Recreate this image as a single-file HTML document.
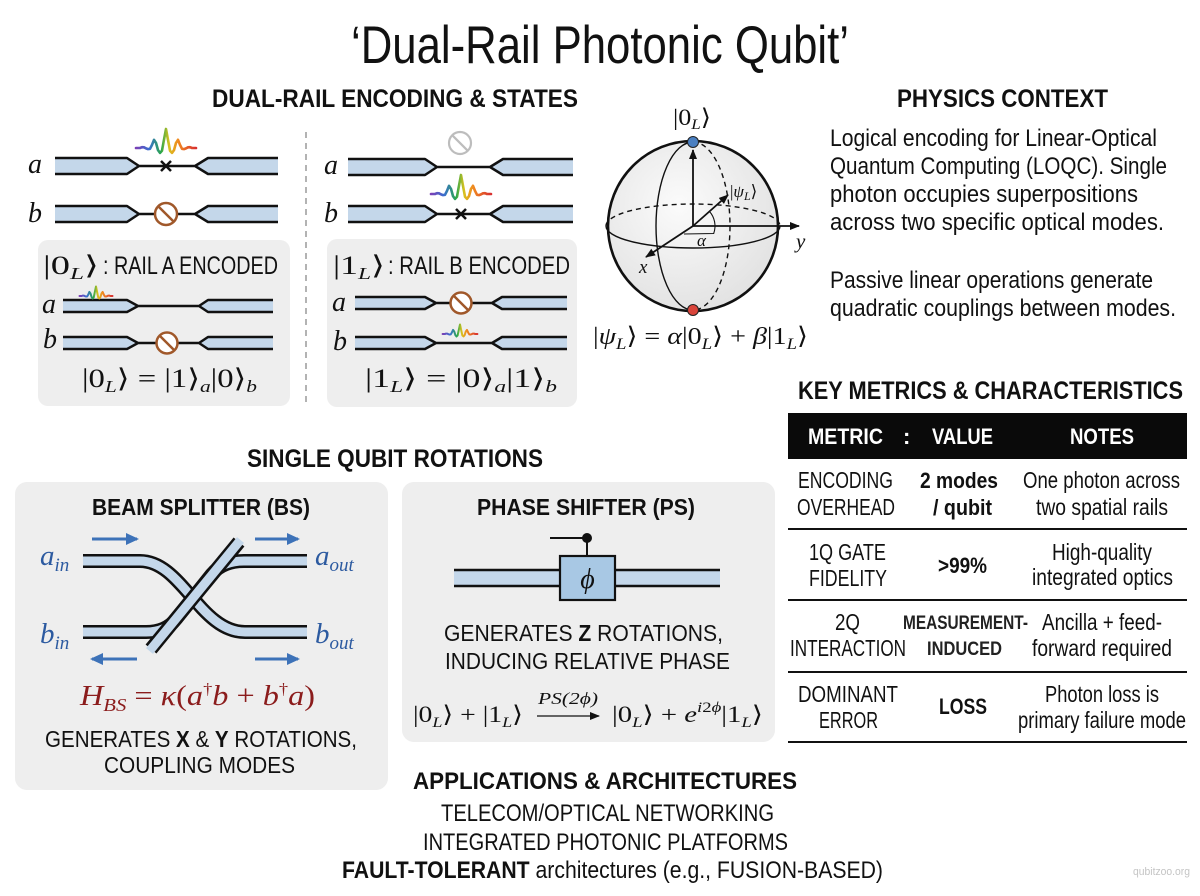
<!DOCTYPE html>
<html><head><meta charset="utf-8"><style>
html,body{margin:0;padding:0;background:#fff;}
svg{display:block;}
.t{font-family:"Liberation Sans",Arial,sans-serif;fill:#111;}
.bd{font-weight:bold;}
.m{font-family:"Liberation Serif","DejaVu Serif",serif;fill:#111;}
.it{font-style:italic;}
</style></head><body>
<svg width="1200" height="896" viewBox="0 0 1200 896" xmlns="http://www.w3.org/2000/svg">
<defs>
<linearGradient id="wg" x1="0" y1="0" x2="1" y2="0">
<stop offset="0" stop-color="#7a3fb5"/><stop offset="0.22" stop-color="#3a6fd0"/><stop offset="0.42" stop-color="#2aa84a"/><stop offset="0.55" stop-color="#d9c21e"/><stop offset="0.7" stop-color="#f08a20"/><stop offset="1" stop-color="#d83030"/>
</linearGradient>
<radialGradient id="sg" cx="0.42" cy="0.38" r="0.7"><stop offset="0" stop-color="#fbfbfb"/><stop offset="1" stop-color="#e0e0e0"/></radialGradient>
<marker id="ah" markerWidth="10" markerHeight="8" refX="9" refY="4" orient="auto" markerUnits="userSpaceOnUse"><path d="M0,0 L10,4 L0,8 Z" fill="#111"/></marker>
<marker id="ab" markerWidth="13" markerHeight="12" refX="11" refY="6" orient="auto" markerUnits="userSpaceOnUse"><path d="M0,0 L13,6 L0,12 Z" fill="#3d72b8"/></marker>
</defs>

<!-- Title -->
<text class="t" x="600" y="63" text-anchor="middle" font-size="53" textLength="498" lengthAdjust="spacingAndGlyphs">‘Dual-Rail Photonic Qubit’</text>

<!-- Section headings -->
<text class="t bd" x="212" y="107" font-size="25" textLength="366" lengthAdjust="spacingAndGlyphs">DUAL-RAIL ENCODING &amp; STATES</text>
<text class="t bd" x="897" y="107" font-size="25" textLength="211" lengthAdjust="spacingAndGlyphs">PHYSICS CONTEXT</text>
<text class="t bd" x="798" y="399" font-size="25" textLength="385" lengthAdjust="spacingAndGlyphs">KEY METRICS &amp; CHARACTERISTICS</text>
<text class="t bd" x="247" y="467" font-size="25" textLength="296" lengthAdjust="spacingAndGlyphs">SINGLE QUBIT ROTATIONS</text>

<!-- Dashed separator -->
<line x1="306" y1="132" x2="306" y2="403" stroke="#9a9a9a" stroke-width="1.5" stroke-dasharray="6 5"/>

<!-- Gray boxes -->
<rect x="38" y="240" width="252" height="166" rx="10" fill="#eeeeee"/>
<rect x="327" y="239" width="250" height="168" rx="10" fill="#eeeeee"/>

<!-- ===== Top-left rails ===== -->
<g fill="#c4d7ea" stroke="none">
<path d="M55,158 L127,158 L139,166 L127,174 L55,174 Z M278,158 L208,158 L195,166 L208,174 L278,174 Z"/>
<path d="M55,206 L127,206 L139,214 L127,222 L55,222 Z M278,206 L208,206 L195,214 L208,222 L278,222 Z"/>
<path d="M63,300 L127,300 L138,306 L127,312 L63,312 Z M273,300 L208,300 L199,306 L208,312 L273,312 Z"/>
<path d="M63,337 L127,337 L138,343 L127,349 L63,349 Z M273,337 L208,337 L199,343 L208,349 L273,349 Z"/>
<path d="M348,159 L425,159 L437,167 L425,175 L348,175 Z M573,159 L503,159 L490,167 L503,175 L573,175 Z"/>
<path d="M348,206 L425,206 L437,214 L425,222 L348,222 Z M573,206 L503,206 L490,214 L503,222 L573,222 Z"/>
<path d="M355,297 L425,297 L436,303 L425,309 L355,309 Z M567,297 L502,297 L492,303 L502,309 L567,309 Z"/>
<path d="M355,337 L425,337 L436,343 L425,349 L355,349 Z M567,337 L502,337 L492,343 L502,349 L567,349 Z"/>
</g>
<g fill="none" stroke="#111" stroke-width="2.5" stroke-linejoin="round">
<path d="M55,158 L127,158 L139,166 L195,166 L208,158 L278,158 M55,174 L127,174 L139,166 M195,166 L208,174 L278,174"/>
<path d="M55,206 L127,206 L139,214 L195,214 L208,206 L278,206 M55,222 L127,222 L139,214 M195,214 L208,222 L278,222"/>
<path d="M63,300 L127,300 L138,306 L199,306 L208,300 L273,300 M63,312 L127,312 L138,306 M199,306 L208,312 L273,312"/>
<path d="M63,337 L127,337 L138,343 L199,343 L208,337 L273,337 M63,349 L127,349 L138,343 M199,343 L208,349 L273,349"/>
<path d="M348,159 L425,159 L437,167 L490,167 L503,159 L573,159 M348,175 L425,175 L437,167 M490,167 L503,175 L573,175"/>
<path d="M348,206 L425,206 L437,214 L490,214 L503,206 L573,206 M348,222 L425,222 L437,214 M490,214 L503,222 L573,222"/>
<path d="M355,297 L425,297 L436,303 L492,303 L502,297 L567,297 M355,309 L425,309 L436,303 M492,303 L502,309 L567,309"/>
<path d="M355,337 L425,337 L436,343 L492,343 L502,337 L567,337 M355,349 L425,349 L436,343 M492,343 L502,349 L567,349"/>
</g>

<!-- crosses -->
<g stroke="#111" stroke-width="2.5">
<path d="M161,161 L171,171 M171,161 L161,171"/>
<path d="M456,209 L466,219 M466,209 L456,219"/>
</g>

<!-- blocked symbols -->
<g fill="#fff" stroke="#a0582a" stroke-width="2.5">
<circle cx="166" cy="214" r="11"/><path d="M158.2,206.2 L173.8,221.8"/>
<circle cx="167" cy="343" r="10.5"/><path d="M159.6,335.6 L174.4,350.4"/>
<circle cx="461" cy="303" r="10.5"/><path d="M453.6,295.6 L468.4,310.4"/>
</g>
<g fill="#fff" stroke="#bdbdbd" stroke-width="2.2">
<circle cx="460" cy="143" r="11"/><path d="M452.2,135.2 L467.8,150.8"/>
</g>

<!-- wave packets -->
<g fill="none" stroke="url(#wg)" stroke-width="2.6" stroke-linejoin="round" stroke-linecap="round">
<path transform="translate(166,148)" d="M-30,0 L-26,0 L-24,-0.85 L-22,-0.7 L-20,0.4 L-18,1.1 L-16,0.8 L-14,-3.1 L-12,-8.2 L-10,-5.1 L-8,2.1 L-6,4.9 L-4,2.7 L-2,-8.3 L0,-19 L2,-8.3 L4,2.7 L6,4.9 L8,2.1 L10,-5.1 L12,-8.2 L14,-3.1 L16,0.8 L18,1.1 L20,0.4 L22,-0.7 L24,-0.85 L26,0 L30,0"/>
<path transform="translate(461,194)" d="M-30,0 L-26,0 L-24,-0.85 L-22,-0.7 L-20,0.4 L-18,1.1 L-16,0.8 L-14,-3.1 L-12,-8.2 L-10,-5.1 L-8,2.1 L-6,4.9 L-4,2.7 L-2,-8.3 L0,-19 L2,-8.3 L4,2.7 L6,4.9 L8,2.1 L10,-5.1 L12,-8.2 L14,-3.1 L16,0.8 L18,1.1 L20,0.4 L22,-0.7 L24,-0.85 L26,0 L30,0"/>
</g>
<g fill="none" stroke="url(#wg)" stroke-width="2" stroke-linejoin="round" stroke-linecap="round">
<path transform="translate(96,296) scale(0.55,0.5)" vector-effect="non-scaling-stroke" d="M-30,0 L-26,0 L-24,-0.85 L-22,-0.7 L-20,0.4 L-18,1.1 L-16,0.8 L-14,-3.1 L-12,-8.2 L-10,-5.1 L-8,2.1 L-6,4.9 L-4,2.7 L-2,-8.3 L0,-19 L2,-8.3 L4,2.7 L6,4.9 L8,2.1 L10,-5.1 L12,-8.2 L14,-3.1 L16,0.8 L18,1.1 L20,0.4 L22,-0.7 L24,-0.85 L26,0 L30,0"/>
<path transform="translate(460,334) scale(0.58,0.5)" vector-effect="non-scaling-stroke" d="M-30,0 L-26,0 L-24,-0.85 L-22,-0.7 L-20,0.4 L-18,1.1 L-16,0.8 L-14,-3.1 L-12,-8.2 L-10,-5.1 L-8,2.1 L-6,4.9 L-4,2.7 L-2,-8.3 L0,-19 L2,-8.3 L4,2.7 L6,4.9 L8,2.1 L10,-5.1 L12,-8.2 L14,-3.1 L16,0.8 L18,1.1 L20,0.4 L22,-0.7 L24,-0.85 L26,0 L30,0"/>
</g>

<!-- rail labels -->
<g class="m it" font-size="28">
<text x="28" y="173">a</text><text x="28" y="222">b</text>
<text x="42" y="313">a</text><text x="43" y="348">b</text>
<text x="324" y="174">a</text><text x="324" y="222">b</text>
<text x="332" y="311">a</text><text x="333" y="350">b</text>
</g>

<!-- gray box headers -->
<text class="m" x="43" y="274" font-size="26" textLength="56" lengthAdjust="spacingAndGlyphs">|0<tspan class="it" font-size="17" dy="5">L</tspan><tspan dy="-5">⟩</tspan></text>
<text class="t" x="103" y="274" font-size="25" textLength="175" lengthAdjust="spacingAndGlyphs">: RAIL A ENCODED</text>
<text class="m" x="333" y="274" font-size="26" textLength="52" lengthAdjust="spacingAndGlyphs">|1<tspan class="it" font-size="17" dy="5">L</tspan><tspan dy="-5">⟩</tspan></text>
<text class="t" x="388" y="274" font-size="25" textLength="182" lengthAdjust="spacingAndGlyphs">: RAIL B ENCODED</text>

<!-- gray box equations -->
<text class="m" x="82" y="387" font-size="26" textLength="175" lengthAdjust="spacingAndGlyphs">|0<tspan class="it" font-size="17" dy="5">L</tspan><tspan dy="-5">⟩ = |1⟩</tspan><tspan class="it" font-size="17" dy="5">a</tspan><tspan dy="-5">|0⟩</tspan><tspan class="it" font-size="17" dy="5">b</tspan></text>
<text class="m" x="365" y="387" font-size="26" textLength="192" lengthAdjust="spacingAndGlyphs">|1<tspan class="it" font-size="17" dy="5">L</tspan><tspan dy="-5">⟩ = |0⟩</tspan><tspan class="it" font-size="17" dy="5">a</tspan><tspan dy="-5">|1⟩</tspan><tspan class="it" font-size="17" dy="5">b</tspan></text>

<!-- ===== Bloch sphere ===== -->
<text class="m" x="673" y="125" font-size="23" textLength="38" lengthAdjust="spacingAndGlyphs">|0<tspan class="it" font-size="15" dy="4">L</tspan><tspan dy="-4">⟩</tspan></text>
<circle cx="693" cy="226" r="85" fill="url(#sg)" stroke="#111" stroke-width="2.6"/>
<g fill="none" stroke="#111" stroke-width="1.4">
<path d="M606,226 A87,22 0 0 1 780,226" stroke-dasharray="5 4"/>
<path d="M606,226 A87,22 0 0 0 780,226"/>
<path d="M693,142 A37,84 0 0 0 693,310"/>
<path d="M693,142 A37,84 0 0 1 693,310" stroke-dasharray="5 4"/>
<path d="M709.3,211.3 A22,22 0 0 1 713.7,233.5 L684,234" stroke-width="1.1"/>
</g>
<g stroke="#111" stroke-width="1.8" fill="none">
<line x1="693" y1="226" x2="693" y2="150" marker-end="url(#ah)"/>
<line x1="693" y1="226" x2="799" y2="226" marker-end="url(#ah)"/>
<line x1="693" y1="226" x2="646" y2="257" marker-end="url(#ah)"/>
<line x1="693" y1="226" x2="728" y2="195" marker-end="url(#ah)"/>
</g>
<circle cx="693" cy="142" r="5.5" fill="#4a7fc1" stroke="#222" stroke-width="1"/>
<circle cx="693" cy="310" r="5.5" fill="#d9443a" stroke="#222" stroke-width="1"/>
<text class="m" x="730" y="197" font-size="17">|<tspan class="it">ψ</tspan><tspan class="it" font-size="12" dy="3">L</tspan><tspan dy="-3">⟩</tspan></text>
<text class="m it" x="639" y="273" font-size="19">x</text>
<text class="m it" x="796" y="248" font-size="21">y</text>
<text class="m it" x="697" y="246" font-size="17">α</text>
<text class="m" x="593" y="344" font-size="24" textLength="215" lengthAdjust="spacingAndGlyphs">|<tspan class="it">ψ</tspan><tspan class="it" font-size="16" dy="5">L</tspan><tspan dy="-5">⟩ = </tspan><tspan class="it">α</tspan>|0<tspan class="it" font-size="16" dy="5">L</tspan><tspan dy="-5">⟩ + </tspan><tspan class="it">β</tspan>|1<tspan class="it" font-size="16" dy="5">L</tspan><tspan dy="-5">⟩</tspan></text>

<!-- ===== Physics context ===== -->
<g class="t" font-size="24">
<text x="830" y="146" textLength="327" lengthAdjust="spacingAndGlyphs">Logical encoding for Linear-Optical</text>
<text x="830" y="174" textLength="337" lengthAdjust="spacingAndGlyphs">Quantum Computing (LOQC). Single</text>
<text x="830" y="202" textLength="308" lengthAdjust="spacingAndGlyphs">photon occupies superpositions</text>
<text x="830" y="230" textLength="334" lengthAdjust="spacingAndGlyphs">across two specific optical modes.</text>
<text x="830" y="288" textLength="323" lengthAdjust="spacingAndGlyphs">Passive linear operations generate</text>
<text x="830" y="316" textLength="346" lengthAdjust="spacingAndGlyphs">quadratic couplings between modes.</text>
</g>

<!-- ===== Table ===== -->
<rect x="788" y="413" width="399" height="46" fill="#0a0a0a"/>
<g class="t bd" font-size="22" style="fill:#fff">
<text x="808" y="444" textLength="75" lengthAdjust="spacingAndGlyphs" style="fill:#fff">METRIC</text>
<text x="903" y="444" style="fill:#fff">:</text>
<text x="932" y="444" textLength="61" lengthAdjust="spacingAndGlyphs" style="fill:#fff">VALUE</text>
<text x="1070" y="444" textLength="64" lengthAdjust="spacingAndGlyphs" style="fill:#fff">NOTES</text>
</g>
<g stroke="#111" stroke-width="2">
<line x1="788" y1="529" x2="1187" y2="529"/>
<line x1="788" y1="600" x2="1187" y2="600"/>
<line x1="788" y1="672" x2="1187" y2="672"/>
<line x1="788" y1="742" x2="1187" y2="742"/>
</g>
<g class="t" font-size="23" text-anchor="middle">
<text x="845.5" y="488" textLength="95" lengthAdjust="spacingAndGlyphs">ENCODING</text>
<text x="846" y="515" textLength="98" lengthAdjust="spacingAndGlyphs">OVERHEAD</text>
<text x="1101.5" y="488" textLength="157" lengthAdjust="spacingAndGlyphs">One photon across</text>
<text x="1102" y="515" textLength="132" lengthAdjust="spacingAndGlyphs">two spatial rails</text>
<text x="847.5" y="560" textLength="77" lengthAdjust="spacingAndGlyphs">1Q GATE</text>
<text x="848" y="586" textLength="78" lengthAdjust="spacingAndGlyphs">FIDELITY</text>
<text x="1102" y="560" textLength="100" lengthAdjust="spacingAndGlyphs">High-quality</text>
<text x="1102.5" y="585" textLength="141" lengthAdjust="spacingAndGlyphs">integrated optics</text>
<text x="847.5" y="630" textLength="25" lengthAdjust="spacingAndGlyphs">2Q</text>
<text x="848" y="656" textLength="116" lengthAdjust="spacingAndGlyphs">INTERACTION</text>
<text x="1102" y="630" textLength="120" lengthAdjust="spacingAndGlyphs">Ancilla + feed-</text>
<text x="1102" y="656" textLength="140" lengthAdjust="spacingAndGlyphs">forward required</text>
<text x="848" y="702" textLength="100" lengthAdjust="spacingAndGlyphs">DOMINANT</text>
<text x="848.5" y="728" textLength="59" lengthAdjust="spacingAndGlyphs">ERROR</text>
<text x="1102" y="702" textLength="114" lengthAdjust="spacingAndGlyphs">Photon loss is</text>
<text x="1102" y="728" textLength="168" lengthAdjust="spacingAndGlyphs">primary failure mode</text>
</g>
<g class="t bd" font-size="22" text-anchor="middle">
<text x="959" y="488" textLength="78" lengthAdjust="spacingAndGlyphs">2 modes</text>
<text x="962.5" y="515" textLength="59" lengthAdjust="spacingAndGlyphs">/ qubit</text>
<text x="962.5" y="573" textLength="49" lengthAdjust="spacingAndGlyphs">&gt;99%</text>
<text x="963" y="714" textLength="48" lengthAdjust="spacingAndGlyphs">LOSS</text>
</g>
<g class="t bd" font-size="19" text-anchor="middle" style="fill:#222">
<text x="965.5" y="629" textLength="125" lengthAdjust="spacingAndGlyphs">MEASUREMENT-</text>
<text x="964.5" y="655" textLength="75" lengthAdjust="spacingAndGlyphs">INDUCED</text>
</g>

<!-- ===== Beam splitter panel ===== -->
<rect x="15" y="482" width="373" height="308" rx="12" fill="#eeeeee"/>
<text class="t bd" x="92" y="515" font-size="23" textLength="218" lengthAdjust="spacingAndGlyphs">BEAM SPLITTER (BS)</text>
<g fill="none" stroke-linecap="butt">
<path d="M83,561 L140,561 C182,561 200,632 245,632 L307,632" stroke="#111" stroke-width="14"/>
<path d="M83,561 L140,561 C182,561 200,632 245,632 L307,632" stroke="#c4d7ea" stroke-width="9"/>
<path d="M83,632 L146,632 Q166,632 176,619 L212,574 Q223,561 244,561 L307,561" stroke="#111" stroke-width="14"/>
<path d="M83,632 L146,632 Q166,632 176,619 L212,574 Q223,561 244,561 L307,561" stroke="#c4d7ea" stroke-width="9"/>
<path d="M151,649 L239,542" stroke="#111" stroke-width="14"/>
<path d="M149.5,651 L240.5,540" stroke="#c4d7ea" stroke-width="9"/>
</g>
<g stroke="#3d72b8" stroke-width="3" fill="none">
<line x1="92" y1="539" x2="137" y2="539" marker-end="url(#ab)"/>
<line x1="255" y1="539" x2="298" y2="539" marker-end="url(#ab)"/>
<line x1="137" y1="659" x2="92" y2="659" marker-end="url(#ab)"/>
<line x1="255" y1="659" x2="298" y2="659" marker-end="url(#ab)"/>
</g>
<g class="m it" font-size="29" style="fill:#2c5aa0">
<text x="40" y="565" style="fill:#2c5aa0">a<tspan font-size="19" dy="6">in</tspan></text>
<text x="315" y="565" style="fill:#2c5aa0">a<tspan font-size="19" dy="6">out</tspan></text>
<text x="40" y="643" style="fill:#2c5aa0">b<tspan font-size="19" dy="6">in</tspan></text>
<text x="315" y="643" style="fill:#2c5aa0">b<tspan font-size="19" dy="6">out</tspan></text>
</g>
<text class="m" x="80" y="705" font-size="28" textLength="235" lengthAdjust="spacingAndGlyphs" style="fill:#8b1c1c"><tspan class="it">H</tspan><tspan class="it" font-size="18" dy="6">BS</tspan><tspan dy="-6"> = </tspan><tspan class="it">κ</tspan>(<tspan class="it">a</tspan><tspan font-size="16" dy="-11">†</tspan><tspan class="it" dy="11">b</tspan> + <tspan class="it">b</tspan><tspan font-size="16" dy="-11">†</tspan><tspan class="it" dy="11">a</tspan>)</text>
<text class="t" x="45" y="747" font-size="23" textLength="312" lengthAdjust="spacingAndGlyphs">GENERATES <tspan class="bd">X</tspan> &amp; <tspan class="bd">Y</tspan> ROTATIONS,</text>
<text class="t" x="104" y="773" font-size="23" textLength="191" lengthAdjust="spacingAndGlyphs">COUPLING MODES</text>

<!-- ===== Phase shifter panel ===== -->
<rect x="402" y="482" width="373" height="260" rx="12" fill="#eeeeee"/>
<text class="t bd" x="477" y="515" font-size="23" textLength="218" lengthAdjust="spacingAndGlyphs">PHASE SHIFTER (PS)</text>
<rect x="454" y="570" width="266" height="16" fill="#c4d7ea"/>
<g stroke="#111" stroke-width="2.5">
<line x1="454" y1="570" x2="720" y2="570"/>
<line x1="454" y1="586" x2="720" y2="586"/>
<line x1="587" y1="556" x2="587" y2="538" stroke-width="2"/>
<line x1="550" y1="538" x2="587" y2="538" stroke-width="2"/>
</g>
<circle cx="587" cy="538" r="5" fill="#111"/>
<rect x="560" y="556" width="55" height="44" fill="#a8c8e4" stroke="#111" stroke-width="2.2"/>
<text class="m it" x="587.5" y="588" font-size="28" text-anchor="middle">ϕ</text>
<text class="t" x="444" y="641" font-size="23" textLength="279" lengthAdjust="spacingAndGlyphs">GENERATES <tspan class="bd">Z</tspan> ROTATIONS,</text>
<text class="t" x="445" y="669" font-size="23" textLength="285" lengthAdjust="spacingAndGlyphs">INDUCING RELATIVE PHASE</text>
<text class="m" x="413" y="722" font-size="23" textLength="110" lengthAdjust="spacingAndGlyphs">|0<tspan class="it" font-size="15" dy="5">L</tspan><tspan dy="-5">⟩ + |1</tspan><tspan class="it" font-size="15" dy="5">L</tspan><tspan dy="-5">⟩</tspan></text>
<text class="m it" x="538" y="704" font-size="17" textLength="60" lengthAdjust="spacingAndGlyphs">PS(2ϕ)</text>
<line x1="537" y1="716" x2="599" y2="716" stroke="#111" stroke-width="1.3" marker-end="url(#ah)"/>
<text class="m" x="612" y="722" font-size="23" textLength="151" lengthAdjust="spacingAndGlyphs">|0<tspan class="it" font-size="15" dy="5">L</tspan><tspan dy="-5">⟩ + </tspan><tspan class="it">e</tspan><tspan class="it" font-size="15" dy="-10">i</tspan><tspan font-size="15">2</tspan><tspan class="it" font-size="15">ϕ</tspan><tspan dy="10">|1</tspan><tspan class="it" font-size="15" dy="5">L</tspan><tspan dy="-5">⟩</tspan></text>

<!-- ===== Applications ===== -->
<text class="t bd" x="413" y="789" font-size="24" textLength="384" lengthAdjust="spacingAndGlyphs">APPLICATIONS &amp; ARCHITECTURES</text>
<text class="t" x="441" y="821" font-size="24" textLength="333" lengthAdjust="spacingAndGlyphs">TELECOM/OPTICAL NETWORKING</text>
<text class="t" x="423" y="850" font-size="24" textLength="365" lengthAdjust="spacingAndGlyphs">INTEGRATED PHOTONIC PLATFORMS</text>
<text class="t" x="342" y="878" font-size="24" textLength="541" lengthAdjust="spacingAndGlyphs"><tspan class="bd">FAULT-TOLERANT</tspan> architectures (e.g., FUSION-BASED)</text>

<!-- watermark -->
<text class="t" x="1133" y="875" font-size="11" textLength="57" lengthAdjust="spacingAndGlyphs" style="fill:#c4c4c4">qubitzoo.org</text>
</svg>
</body></html>
